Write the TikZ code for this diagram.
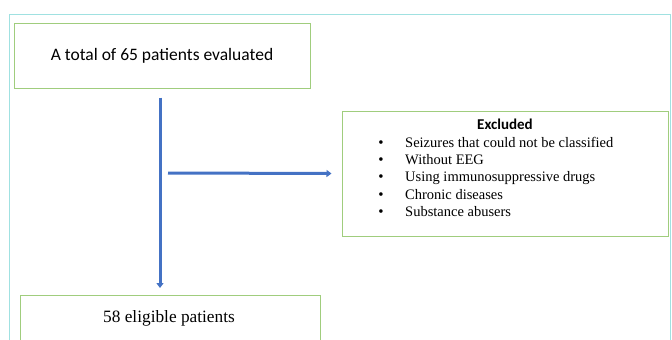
\documentclass[tikz,border=0pt]{standalone}
\usepackage{fontspec}
\setmainfont{Liberation Serif}
\newfontfamily\calibri{Carlito}
\usepackage{xcolor}
\usetikzlibrary{arrows.meta,positioning}
\definecolor{boxgreen}{RGB}{160,205,125}
\definecolor{flowblue}{RGB}{68,114,196}
\definecolor{framecyan}{RGB}{160,225,225}
\begin{document}
\begin{tikzpicture}[x=1pt,y=-1pt,
box/.style={draw=boxgreen,line width=1pt,inner sep=0pt},
flow/.style={draw=flowblue,line width=3pt,-{Triangle[length=5pt,width=7pt]}}]
\useasboundingbox (0,0) rectangle (672,340);
\begin{scope}
\clip (0,0) rectangle (672,340);
\draw[framecyan,line width=1pt](9,14) rectangle (670,360);
\node[box,minimum width=296pt,minimum height=65pt] (total) at (162,55.5)
{\calibri\fontsize{17.5}{21}\selectfont A total of 65 patients evaluated};
\node[box,minimum width=326pt,minimum height=125pt] (excluded) at (505,173.5) {};
\node[box,minimum width=300pt,minimum height=60pt,anchor=north] (eligible) at (170,295)
{};
\end{scope}
\node (eligtxt) at (169,318) {\fontsize{17.3}{20}\selectfont 58 eligible patients};
\node (exhead) at (505,124) {\calibri\bfseries\fontsize{15}{18}\selectfont Excluded};
\foreach \txt [count=\i] in {Seizures that could not be classified,Without EEG,
Using immunosuppressive drugs,Chronic diseases,Substance abusers}{
\node[anchor=base,inner sep=0pt] at (381,130+17.3*\i) {\fontsize{15}{17}\selectfont\textbullet};
\node[anchor=base west,inner sep=0pt] at (405,130+17.3*\i) {\fontsize{14.5}{17}\selectfont \txt};
}
\coordinate (branch) at (168,173);
\draw[flow] ([xshift=-2pt]total.south)++(0,9) -- ([yshift=7pt,xshift=-2pt]eligible.north -| total.south);
\draw[flow] (branch) -- ([xshift=-10pt]excluded.west);
\end{tikzpicture}
\end{document}
